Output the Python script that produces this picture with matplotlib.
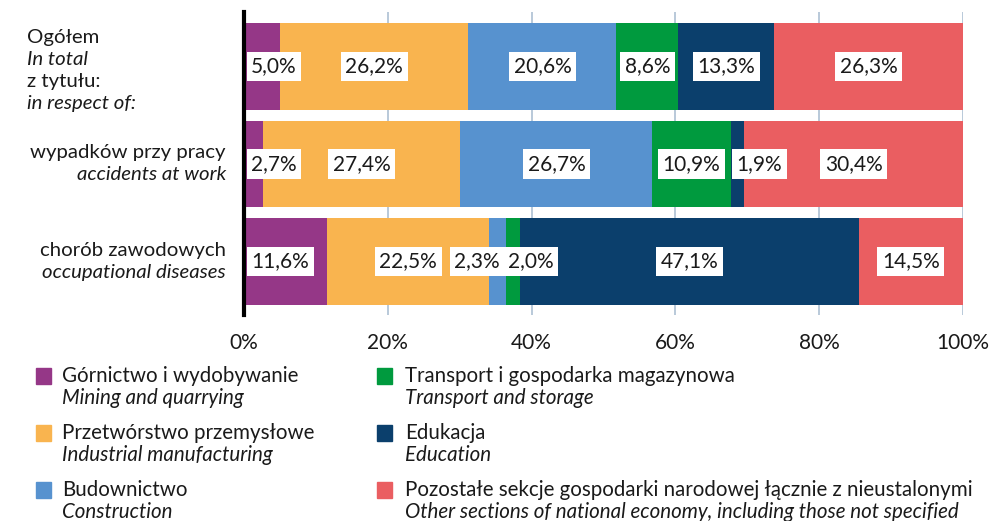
import matplotlib
matplotlib.use('Agg')
import matplotlib.pyplot as plt
from matplotlib.patches import Rectangle

plt.rcParams['font.family'] = ['Lato', 'DejaVu Sans']

# data
rows_pl = ['Ogółem', 'wypadków przy pracy', 'chorób zawodowych']
rows_en = ['In total', 'accidents at work', 'occupational diseases']
series_pl = ['Górnictwo i wydobywanie', 'Przetwórstwo przemysłowe', 'Budownictwo',
             'Transport i gospodarka magazynowa', 'Edukacja',
             'Pozostałe sekcje gospodarki narodowej łącznie z nieustalonymi']
series_en = ['Mining and quarrying', 'Industrial manufacturing', 'Construction',
             'Transport and storage', 'Education',
             'Other sections of national economy, including those not specified']
mining = [5.0, 2.7, 11.6]
manufacturing = [26.2, 27.4, 22.5]
construction = [20.6, 26.7, 2.3]
transport = [8.6, 10.9, 2.0]
education = [13.3, 1.9, 47.1]
other = [26.3, 30.4, 14.5]
values = [mining, manufacturing, construction, transport, education, other]
xticks = [0, 20, 40, 60, 80, 100]

colors = ['#953787', '#f9b44f', '#5792cf', '#009a3e', '#0b3f6c', '#ea5e61']
# label nudges (percentage points) where labels would collide
nudge = {(2, 2): -2.85, (2, 3): 2.5, (1, 4): 3.0}

fig = plt.figure(figsize=(9.9, 5.21), dpi=100)
ax = fig.add_axes([244 / 990, 1 - 315 / 521, 719 / 990, 303 / 521])

ypos = list(range(len(rows_pl)))
left = [0.0] * len(ypos)
for s, vals in enumerate(values):
    ax.barh(ypos, vals, left=left, height=0.89, color=colors[s], zorder=2)
    for r, v in enumerate(vals):
        if s == 0:
            x, ha = 1.0, 'left'
        else:
            x, ha = left[r] + v / 2 + nudge.get((r, s), 0), 'center'
        ax.text(x, r, f'{v:.1f}%'.replace('.', ','), ha=ha, va='center',
                fontsize=15, color='#1a1a1a', zorder=4,
                bbox=dict(boxstyle='square,pad=0.22', fc='white', ec='none'))
    left = [l + v for l, v in zip(left, vals)]

ax.set_xlim(0, 100)
ax.set_ylim(2.55, -0.56)
ax.set_xticks(xticks)
ax.set_xticklabels([f'{t}%' for t in xticks])
ax.tick_params(axis='x', length=0, pad=13, labelsize=15, labelcolor='#1a1a1a')
ax.set_yticks([])
ax.grid(axis='x', color='#b9c9d9', linewidth=1.4, zorder=0)
for sp in ['top', 'right', 'bottom']:
    ax.spines[sp].set_visible(False)
ax.spines['left'].set_color('black')
ax.spines['left'].set_linewidth(3)
ax.spines['left'].set_zorder(5)

# category labels
tr = ax.get_yaxis_transform()
lh = 22 / 97.5
x0 = (27 - 244) / 719
lines0 = [(rows_pl[0], 'normal'), (rows_en[0], 'italic'),
          ('z tytułu:', 'normal'), ('in respect of:', 'italic')]
for i, (txt, st) in enumerate(lines0):
    ax.text(x0, 0 + (i - 1.5) * lh + 0.04, txt, transform=tr, ha='left', va='center',
            fontsize=14.7, style=st, color='#1a1a1a', clip_on=False)
xr = (226 - 244) / 719
for r in (1, 2):
    ax.text(xr, r - lh / 2, rows_pl[r], transform=tr, ha='right', va='center',
            fontsize=14.7, color='#1a1a1a', clip_on=False)
    ax.text(xr, r + lh / 2, rows_en[r], transform=tr, ha='right', va='center',
            fontsize=14.7, style='italic', color='#1a1a1a', clip_on=False)

# legend
W, H = 990, 521
for s in range(len(series_pl)):
    col, row = divmod(s, 3)
    px = 36 if col == 0 else 377
    tx = 62 if col == 0 else 405
    y1 = 376 + row * 57
    fig.add_artist(Rectangle((px / W, 1 - (y1 + 8) / H), 15 / W, 16 / H,
                             transform=fig.transFigure, color=colors[s]))
    fig.text(tx / W, 1 - y1 / H, series_pl[s], ha='left', va='center',
             fontsize=14.8, color='#1a1a1a')
    fig.text(tx / W, 1 - (y1 + 22) / H, series_en[s], ha='left', va='center',
             fontsize=14.8, style='italic', color='#1a1a1a')

fig.savefig('out.png', dpi=100)
